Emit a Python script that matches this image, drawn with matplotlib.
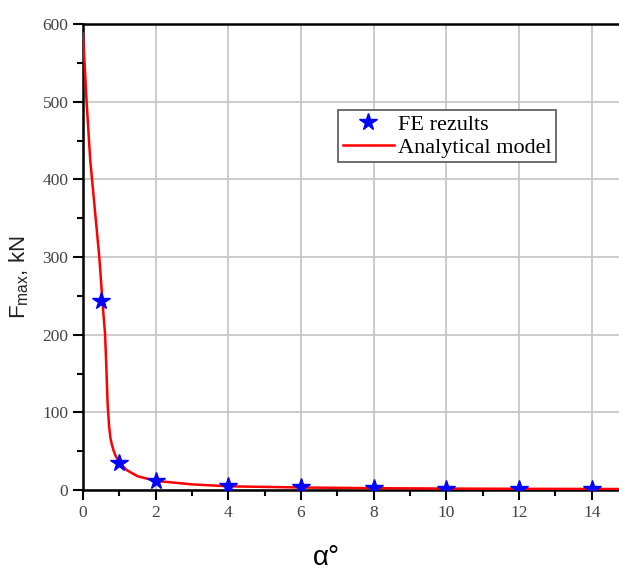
import numpy as np
import matplotlib.pyplot as plt
from matplotlib.ticker import MultipleLocator

# FE results (stars)
fe_alpha = [0.5, 1, 2, 4, 6, 8, 10, 12, 14]
fe_force = [243, 35, 12, 5, 3.5, 2.5, 2, 1.8, 1.6]

# analytical model (red curve)
an_alpha = [0.0, 0.05, 0.1, 0.2, 0.3, 0.45, 0.55, 0.61, 0.65, 0.68, 0.72, 0.76,
            0.8, 0.85, 0.9, 1.0, 1.2, 1.5, 2.0, 3.0, 4.0, 6.0, 8.0, 10.0, 12.0, 14.0, 15.0]
an_force = [588, 545, 500, 425, 375, 300, 235, 200, 150, 110, 82, 66,
            58, 50, 44, 36, 26, 18, 12, 7.5, 5, 3.5, 2.6, 2.1, 1.8, 1.6, 1.5]

fig = plt.figure(figsize=(6.19, 5.70), dpi=100)
ax = fig.add_axes([0.134, 0.140, 0.866, 0.818])

ax.plot(an_alpha, an_force, color='red', lw=1.8, label='Analytical model', zorder=3)
ax.plot(fe_alpha, fe_force, ls='none', marker='*', ms=13, color='blue',
        label='FE rezults', zorder=4)

ax.set_xlim(0, 14.75)
ax.set_ylim(0, 600)
ax.xaxis.set_major_locator(MultipleLocator(2))
ax.xaxis.set_minor_locator(MultipleLocator(1))
ax.yaxis.set_major_locator(MultipleLocator(100))
ax.yaxis.set_minor_locator(MultipleLocator(50))
ax.grid(True, which='major', color='#c4c4c4', lw=1.2)
ax.set_axisbelow(True)

for s in ['left', 'bottom', 'top']:
    ax.spines[s].set_linewidth(1.8)
ax.spines['right'].set_visible(False)
ax.tick_params(which='major', direction='out', length=7, width=1.5,
               labelsize=12.5, colors='black', labelcolor='#444444')
ax.tick_params(which='minor', direction='out', length=4, width=1.5)
for lab in ax.get_xticklabels() + ax.get_yticklabels():
    lab.set_fontfamily('Liberation Serif')

# labels placed by hand to sit where the reference has them
ax.set_ylabel(r'F$_{\mathregular{max}}$, kN', fontsize=16, family='Liberation Sans',
              color='#222222')
ax.yaxis.set_label_coords(-0.097, 0.457)
ax.set_xlabel('α°', fontsize=20, family='Liberation Sans')
ax.xaxis.label.set_va('baseline')
ax.xaxis.set_label_coords(0.455, -0.16)

handles, labels = ax.get_legend_handles_labels()
leg = ax.legend(handles[::-1], labels[::-1], loc='upper left',
                bbox_to_anchor=(0.476, 0.815), borderaxespad=0,
                prop={'family': 'Liberation Serif', 'size': 16},
                fancybox=False, framealpha=1, edgecolor='#555555',
                handlelength=2.3, handletextpad=0.2, borderpad=0.2, labelspacing=0.1)
leg.get_frame().set_linewidth(1.2)

fig.savefig('out.png', dpi=100)
